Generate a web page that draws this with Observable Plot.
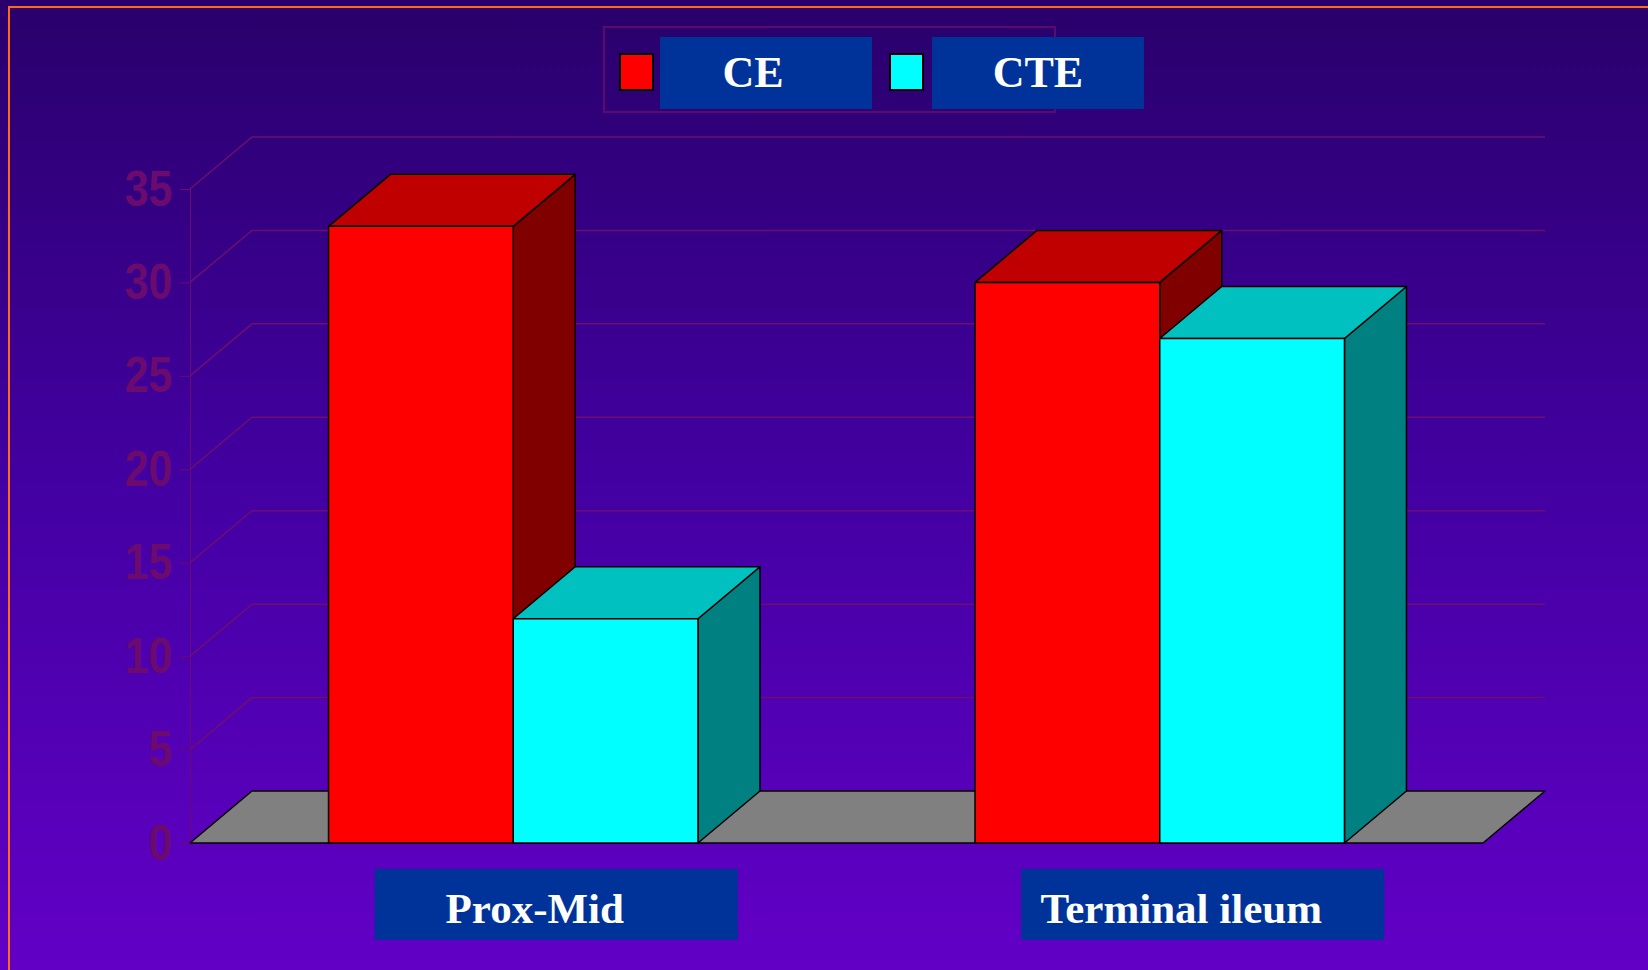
<!DOCTYPE html>
<html>
<head>
<meta charset="utf-8">
<script src="https://cdn.jsdelivr.net/npm/d3@7"></script>
<script src="https://cdn.jsdelivr.net/npm/@observablehq/plot@0.6"></script>
<style>
  html, body { margin: 0; padding: 0; }
  body { width: 1648px; height: 970px; overflow: hidden; }
  #stage { position: relative; width: 1648px; height: 970px; overflow: hidden;
    background: linear-gradient(to bottom, #29006b 0%, #4300a2 50%, #6200c6 100%); }
  #frame { position: absolute; left: 8px; top: 6px; width: 3000px; height: 3000px;
    border-left: 2px solid #ff6a1a; border-top: 2px solid #ff6a1a; box-sizing: border-box; }
  #chart { position: absolute; left: 0; top: 0; }
  .lg { position: absolute; box-sizing: border-box; }
  #lg-outline { left: 603px; top: 26px; width: 453px; height: 87px; border: 2px solid #5a0c6c; }
  .swatch { width: 35px; height: 38px; top: 53px; border: 2px solid #000; }
  .lbox { top: 37px; width: 212px; height: 72px; background: #003399; color: #fff;
    font-family: "Liberation Serif", "Times New Roman", serif; font-weight: bold; font-size: 44px;
    display: flex; align-items: center; justify-content: center; line-height: 1; }
</style>
</head>
<body>
<div id="stage">
  <div id="frame"></div>
  <div id="chart"></div>
  <div id="legend"></div>
</div>
<script>
// ---- data ----
const categories = ["Prox-Mid", "Terminal ileum"];
const seriesNames = ["CE", "CTE"];
const ceValues = [33, 30];
const cteValues = [12, 27];
const yTicks = [0, 5, 10, 15, 20, 25, 30, 35];

// ---- styles ----
const seriesStyle = {
  CE:  { front: "#ff0000", top: "#c00000", side: "#800000" },
  CTE: { front: "#00ffff", top: "#00c0c0", side: "#008080" }
};
const gridColor = "#6c0f70";
const DX = 62, DY = -52; // 3D depth offset (pixels)

const seriesValues = [ceValues, cteValues];
const table = categories.flatMap((c, i) =>
  seriesNames.map((s, j) => ({ category: c, series: s, index: j, value: seriesValues[j][i] })));

function chart3d(index, scales, values, dimensions) {
  const X = scales.x, Y = scales.y;
  const bw = typeof X.bandwidth === "function" ? X.bandwidth() : X.bandwidth;
  const { width, marginLeft, marginRight } = dimensions;
  const x0 = marginLeft, x1 = width - marginRight;
  const y0 = Y(0);
  const g = d3.create("svg:g");
  // back-wall gridlines with their diagonals
  for (const t of yTicks) {
    const y = Y(t);
    g.append("path")
      .attr("d", `M${x0},${y}L${x0 + DX},${y + DY}L${x1 + DX},${y + DY}`)
      .attr("fill", "none").attr("stroke", gridColor).attr("stroke-width", 1.5);
  }
  // floor
  g.append("path")
    .attr("d", `M${x0},${y0}L${x0 + DX},${y0 + DY}L${x1 + DX},${y0 + DY}L${x1},${y0}Z`)
    .attr("fill", "#808080").attr("stroke", "#000").attr("stroke-width", 1.5)
    .attr("stroke-linejoin", "round");
  // category label boxes
  for (const c of categories) {
    const cx = X(c) + bw / 2 + 43;
    g.append("rect").attr("x", cx - 181.5).attr("y", y0 + 26)
      .attr("width", 363).attr("height", 71).attr("fill", "#003399");
  }
  // 3D bars
  const barW = bw * 2 / 7;
  for (const d of table) {
    const L = X(d.category) + bw / 2 + (d.index - 1) * barW;
    const R = L + barW;
    const yv = Y(d.value);
    const st = seriesStyle[d.series];
    const common = sel => sel.attr("stroke", "#000").attr("stroke-width", 1.5).attr("stroke-linejoin", "round");
    g.append("path")
      .attr("d", `M${R},${yv}L${R + DX},${yv + DY}L${R + DX},${y0 + DY}L${R},${y0}Z`)
      .attr("fill", st.side).call(common);
    g.append("path")
      .attr("d", `M${L},${yv}L${L + DX},${yv + DY}L${R + DX},${yv + DY}L${R},${yv}Z`)
      .attr("fill", st.top).call(common);
    g.append("rect").attr("x", L).attr("y", yv).attr("width", barW).attr("height", y0 - yv)
      .attr("fill", st.front).call(common);
  }
  return g.node();
}

const svg = Plot.plot({
  width: 1648,
  height: 970,
  marginLeft: 190,
  marginRight: 165,
  marginTop: 189,
  marginBottom: 127,
  style: {
    background: "transparent",
    color: "#6b0b6f",
    fontFamily: "'Liberation Sans', Arial, sans-serif",
    fontSize: "43px",
    fontWeight: "bold",
    overflow: "visible"
  },
  x: { type: "band", domain: categories, padding: 0, round: false, axis: null },
  y: { domain: [0, 35], ticks: yTicks, tickSize: 10, tickPadding: 8, tickFormat: d => String(d), label: null, line: true },
  marks: [
    chart3d,
    Plot.text(categories, {
      x: d => d, frameAnchor: "bottom", lineAnchor: "bottom", dy: 79, dx: 21,
      fill: "#ffffff", fontSize: 43, fontWeight: "bold",
      fontFamily: "'Liberation Serif', 'Times New Roman', serif"
    })
  ]
});
document.getElementById("chart").appendChild(svg);

// stretch y tick labels vertically like the original
svg.querySelectorAll("text").forEach(t => {
  if (/^\d+$/.test(t.textContent.trim())) {
    const b = t.getBBox();
    const cy = b.y + b.height / 2;
    const old = t.getAttribute("transform") || "";
    t.setAttribute("transform", `${old} translate(0,${cy}) scale(1,1.15) translate(0,${-cy})`);
  }
});

// ---- legend ----
const legend = document.getElementById("legend");
const legendLeft = { CE: [619, 660], CTE: [889, 932] };
legend.innerHTML = `<div class="lg" id="lg-outline"></div>` +
  seriesNames.map(s =>
    `<div class="lg swatch" style="left:${legendLeft[s][0]}px;background:${seriesStyle[s].front}"></div>` +
    `<div class="lg lbox" style="left:${legendLeft[s][1]}px;${s === "CE" ? "padding-right:26px" : ""}">${s}</div>`
  ).join("");
</script>
</body>
</html>
